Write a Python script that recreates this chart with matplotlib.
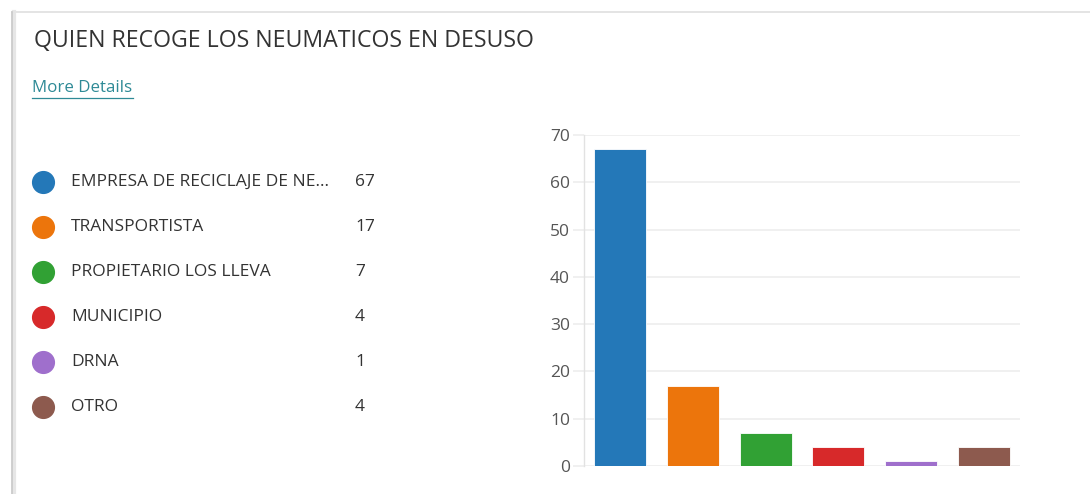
import matplotlib
matplotlib.use("Agg")
import matplotlib.pyplot as plt
from matplotlib.lines import Line2D

# data
categories = ["EMPRESA DE RECICLAJE DE NE...", "TRANSPORTISTA", "PROPIETARIO LOS LLEVA",
              "MUNICIPIO", "DRNA", "OTRO"]
counts = [67, 17, 7, 4, 1, 4]
colors = ["#2478b8", "#ec750c", "#31a134", "#d7292a", "#9f6fcc", "#8d5a4e"]
yticks = [0, 10, 20, 30, 40, 50, 60, 70]

plt.rcParams['font.family'] = ['Open Sans', 'DejaVu Sans']

W, H = 1090, 494
fig = plt.figure(figsize=(W / 100, H / 100), dpi=100)
fig.patch.set_facecolor("white")

# card frame (top and left edges with a soft shadow)
for off, col, lw in [(2, "#e6e6e6", 3), (0, "#c8c8c8", 1.2)]:
    fig.add_artist(Line2D([(12 + off) / W, 1], [1 - 12 / H, 1 - 12 / H],
                          color="#e4e4e4", lw=1.2))
    fig.add_artist(Line2D([(12 + off) / W, (12 + off) / W], [0, 1 - 12 / H],
                          color=col, lw=lw))

fig.text(34 / W, 1 - 41 / H, "QUIEN RECOGE LOS NEUMATICOS EN DESUSO",
         fontsize=16.7, color="#333333", va="center", ha="left")
fig.text(32 / W, 1 - 88 / H, "More Details", fontsize=12.2, color="#2e8a96",
         va="center", ha="left")
fig.add_artist(Line2D([32 / W, 133 / W], [1 - 98 / H, 1 - 98 / H],
                      color="#2e8a96", lw=0.9))

# legend list on the left, in pixel coordinates
lax = fig.add_axes([0, 0, 1, 1])
lax.set_xlim(0, W)
lax.set_ylim(H, 0)
lax.axis("off")
for i, (name, val, c) in enumerate(zip(categories, counts, colors)):
    y = 182 + i * 45
    lax.scatter([43], [y], s=245, color=c, zorder=3)
    lax.text(71, y, name, fontsize=12.5, color="#333333", va="center", ha="left")
    lax.text(355, y, str(val), fontsize=12.5, color="#333333", va="center", ha="left")

# bar chart
ax = fig.add_axes([584 / W, 28 / H, 436 / W, 331 / H])
x = range(len(categories))
ax.bar(x, counts, width=0.72, color=colors, edgecolor="white", linewidth=0.6, zorder=3)
ax.set_xlim(-0.5, len(categories) - 0.5)
ax.set_ylim(0, 70)
ax.set_yticks(yticks)
ax.set_xticks([])
ax.grid(axis="y", color="#efefef", lw=1.3, zorder=0)
for s in ["top", "right", "bottom"]:
    ax.spines[s].set_visible(False)
ax.spines["left"].set_color("#e2e2e2")
ax.spines["left"].set_linewidth(1.0)
ax.tick_params(axis="y", length=8, width=1.3, color="#efefef", labelsize=12.5,
               labelcolor="#555555", pad=2)

fig.savefig("out.png", dpi=100)
